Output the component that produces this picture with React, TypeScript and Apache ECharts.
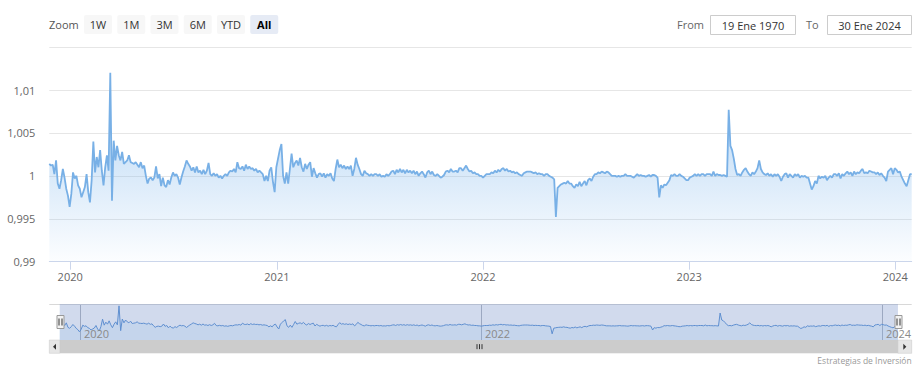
import React, { useEffect, useRef } from "react";
import * as echarts from "echarts";

const DAY_MS = 86400000;
const SERIES_START = Date.UTC(2019, 10, 25); // first sample: 25 Nov 2019
const SAMPLE_STEP_DAYS = 3;

// Values, one every 3 days.
// part 1: from 2019-11-25
const valuesPart1 = [
  1.0014, 1.0012, 1.0013, 1.0002, 1.0018, 0.9991, 0.9985, 0.9995, 1.0008, 0.9998,
  0.9985, 0.9977, 0.9964, 0.9979, 1.0004, 0.9997, 1.0, 0.9989, 0.9985, 0.9975,
  0.9981, 0.9987, 1.0002, 0.9981, 0.9969, 0.9995, 1.004, 1.0004, 1.0022, 1.001,
  1.003, 1.0006, 0.9989, 1.001, 1.0024, 1.0006, 1.012, 0.9971, 1.0041, 1.0018,
  1.0035, 1.0024, 1.0018, 1.0028, 1.0014, 1.0016, 1.0018, 1.0024, 1.0016, 1.0015,
  1.0014, 1.0016, 1.0013, 1.001, 1.0016, 1.0009, 1.0012, 1.0, 0.9991, 0.9997,
  0.9998, 0.9995, 0.9998, 1.0011, 0.9997, 1.0002, 0.9988, 0.9998, 0.9989, 0.9987,
  0.9995, 0.999, 0.9998, 1.0004, 1.0, 1.0002, 0.9998, 0.999, 0.9998, 1.0005,
  1.0011, 1.0018, 1.0014, 1.0011, 1.0006, 1.001, 1.0004, 1.0011, 1.0004, 1.0006,
  1.0002, 1.0007, 1.0002, 1.0006, 1.0015, 1.0002, 1.0, 1.0003, 1.0, 1.0002,
  0.9998, 1.0, 0.9997, 1.0, 1.0002, 1.0, 1.0004, 1.0006, 1.0005, 1.0008,
  1.0004, 1.0016, 1.0009, 1.0008, 1.0011, 1.0006, 1.0013, 1.0008, 1.0011, 1.0008,
  1.0009, 1.0006, 1.0008, 1.0004, 1.0006, 1.0004, 1.0002, 0.9994, 1.0, 0.9994,
  1.0006, 1.001,
];
// part 2: from 2020-12-25
const valuesPart2 = [
  0.9993, 0.9981, 1.001, 1.002, 1.003, 1.0037, 1.0, 0.9991, 1.0004, 0.9991,
  1.0008, 1.0026, 1.001, 1.0015, 1.0018, 1.0012, 1.0021, 1.001, 1.0005, 1.0014,
  1.0008, 1.0013, 1.0016, 0.9999, 1.0009, 1.0003, 0.9998, 1.0002, 1.0003, 0.9999,
  1.0003, 0.9998, 1.0002, 1.0, 1.0003, 0.9997, 0.9994, 1.0008, 1.0019, 1.001,
  1.0013, 1.0009, 1.0012, 1.0008, 1.0011, 1.0008, 1.0012, 1.0, 1.0008, 1.0021,
  1.0013, 1.0008, 1.0002, 1.0, 1.0006, 1.0003, 1.0002, 1.0, 1.0002, 1.0,
  1.0002, 1.0002, 1.0, 1.0002, 0.9999, 1.0, 0.9999, 1.0002, 1.0, 1.0002,
  1.0005, 1.0006, 1.0002, 1.0007, 1.0004, 1.0008, 1.0004, 1.0007, 1.0003, 1.0007,
  1.0004, 1.0006, 1.0003, 1.0006, 1.0002, 1.0005, 1.0, 1.0003, 1.0005, 1.0002,
  0.9998, 1.0004, 1.0006, 1.0002, 1.0005, 1.0001, 1.0, 1.0002, 1.0, 0.9998,
  0.9999, 1.0001, 1.0005, 1.0006, 1.0004, 1.0008, 1.0005, 1.0005, 1.0006, 1.0004,
  1.0009, 1.0009, 1.0006, 1.0009, 1.0012, 1.0008, 1.0005, 1.0006, 1.0003, 1.0004,
  1.0002, 1.0002, 1.0, 1.0, 0.9998, 1.0, 1.0002,
];
// part 3: from 2022-01-10
const valuesPart3 = [
  1.0002, 1.0002, 1.0004, 1.0003, 1.0006, 1.0004, 1.0007, 1.0005, 1.0008, 1.0009,
  1.0006, 1.0008, 1.0005, 1.0006, 1.0004, 1.0005, 1.0003, 1.0004, 1.0002, 1.0001,
  1.0, 1.0003, 1.0004, 1.0005, 1.0005, 1.0005, 1.0004, 1.0003, 1.0004, 1.0002,
  1.0003, 1.0002, 1.0002, 1.0, 1.0002, 1.0002, 1.0, 0.9999, 0.9998, 0.9996,
  0.9952, 0.9986, 0.9988, 0.999, 0.9991, 0.9992, 0.9991, 0.9994, 0.9991, 0.9991,
  0.9988, 0.9986, 0.999, 0.9988, 0.9993, 0.9988, 0.9991, 0.9994, 0.9989, 0.9995,
  0.9997, 0.9994, 0.9999, 1.0002, 1.0002, 1.0004, 1.0003, 1.0005, 1.0004, 1.0003,
  1.0005, 1.0004, 1.0002, 1.0, 1.0, 1.0, 0.9999, 1.0, 0.9999, 1.0,
  1.0, 1.0002, 1.0, 1.0, 1.0, 0.9999, 0.9998, 1.0, 1.0002, 1.0,
  1.0001, 1.0, 1.0, 0.9999, 1.0, 1.0001, 0.9999, 1.0001, 1.0001, 1.0,
  0.9998, 0.9975, 0.9989, 0.9986, 0.999, 0.9989, 0.9992, 0.9995, 1.0001, 1.0,
  1.0002, 1.0, 1.0, 1.0002, 1.0, 0.9999, 0.9997, 0.9995, 0.9995, 0.9998,
  0.9999, 1.0, 1.0002, 1.0, 1.0002, 1.0, 1.0002, 1.0002, 1.0, 1.0002,
  1.0002,
];
// part 4: from 2023-02-07
const valuesPart4 = [
  1.0002, 1.0, 1.0005, 1.0, 1.0002, 1.0001, 1.0001, 1.0, 1.0001, 1.0,
  0.9999, 1.0077, 1.0035, 1.003, 1.002, 1.0008, 1.0001, 1.0002, 1.0, 1.0004,
  1.0007, 1.0009, 1.0005, 1.0002, 1.0, 1.0004, 1.0002, 1.0005, 1.0009, 1.0018,
  1.0008, 1.0004, 1.0002, 1.0001, 1.0003, 1.0, 1.0002, 0.9999, 1.0002, 1.0,
  1.0002, 0.9999, 0.9994, 0.9999, 1.0002, 1.0003, 0.9998, 1.0002, 1.0, 0.9998,
  1.0002, 1.0, 1.0002, 0.9998, 1.0, 0.9999, 1.0, 0.9998, 0.9998, 0.9991,
  0.9984, 0.9988, 0.9994, 0.9991, 1.0, 0.9997, 0.9999, 0.9998, 1.0, 0.9995,
  0.9998, 1.0, 0.9998, 1.0002, 1.0002, 1.0, 1.0003, 0.9997, 1.0002, 1.0,
  1.0003, 1.0005, 1.0002, 1.0004, 1.0, 1.0005, 1.0002, 1.0004, 1.0003, 1.0006,
  1.0008, 1.0003, 1.0004, 1.0003, 1.0006, 1.0005, 1.0004, 1.0004, 1.0002, 1.0004,
  1.0001, 1.0003, 1.0, 0.9998, 0.9994, 1.0005, 1.0007, 1.0009, 1.0002, 1.0009,
  1.0007, 1.0004, 1.0005, 0.9999, 0.9995, 0.9991, 0.9988, 0.9995, 1.0002, 1.0002,
];

const Y_MIN = 0.99;
const Y_MAX = 1.015;
const Y_STEP = 0.005;
const NAV_X_MIN = Date.UTC(2019, 10, 6);
const NAV_X_MAX = Date.UTC(2024, 1, 24);
const NAV_Y_MIN = 0.9915;
const NAV_Y_MAX = 1.0131;
const NAV_TICK_YEARS = [2020, 2022, 2024];

const RANGE_BUTTONS = ["1W", "1M", "3M", "6M", "YTD", "All"];
const SELECTED_BUTTON = "All";
const ZOOM_LABEL = "Zoom";
const FROM_LABEL = "From";
const TO_LABEL = "To";
const FROM_TEXT = "19 Ene 1970";
const TO_TEXT = "30 Ene 2024";
const CREDITS = "Estrategias de Inversión";

const FONT = '"Open Sans", "Noto Sans", Arial, sans-serif';

const PLOT_LEFT = 49.3;
const PLOT_WIDTH = 862.4;
const PLOT_RIGHT = PLOT_LEFT + PLOT_WIDTH;
const NAV_TOP = 304;
const NAV_HEIGHT = 36;
const SCROLL_TOP = 340;
const SCROLL_H = 13.3;

function txt(x: number, y: number, text: string, o: any = {}) {
  return {
    type: "text",
    x,
    y,
    silent: true,
    z: o.z || 0,
    style: {
      text,
      fill: o.fill || "#666666",
      fontSize: o.size || 11,
      fontFamily: FONT,
      fontWeight: o.weight || "normal",
      align: o.align || "left",
      textAlign: o.align || "left",
      verticalAlign: "middle",
      textVerticalAlign: "middle",
    },
  };
}

function buildGraphics(xs: number, xe: number, yearXs: number[]) {
  const els: any[] = [];
  // Zoom label and range buttons
  els.push(txt(49, 24.5, ZOOM_LABEL, { fill: "#555555" }));
  RANGE_BUTTONS.forEach((b, k) => {
    const bx = 84 + k * 33.25;
    const sel = b === SELECTED_BUTTON;
    els.push({
      type: "rect",
      silent: true,
      shape: { x: bx, y: 15, width: 28, height: 19, r: 2 },
      style: { fill: sel ? "#e6ebf5" : "#f7f7f7" },
    });
    els.push(
      txt(bx + 14, 24.5, b, {
        fill: sel ? "#000000" : "#333333",
        weight: sel ? "bold" : "normal",
        align: "center",
      })
    );
  });
  // From / To inputs
  els.push(txt(677, 24.5, FROM_LABEL, { fill: "#666666" }));
  els.push({
    type: "rect",
    silent: true,
    shape: { x: 710.5, y: 15.5, width: 85, height: 19 },
    style: { fill: "#ffffff", stroke: "#cccccc", lineWidth: 1 },
  });
  els.push(txt(753, 25, FROM_TEXT, { fill: "#333333", align: "center" }));
  els.push(txt(806, 24.5, TO_LABEL, { fill: "#666666" }));
  els.push({
    type: "rect",
    silent: true,
    shape: { x: 827.5, y: 15.5, width: 84, height: 19 },
    style: { fill: "#ffffff", stroke: "#cccccc", lineWidth: 1 },
  });
  els.push(txt(869.5, 25, TO_TEXT, { fill: "#333333", align: "center" }));

  // navigator year grid lines and labels (positions from the navigator axis scale)
  yearXs.forEach((gx, k) => {
    const lx = Math.round(gx) + 0.5;
    els.push({
      type: "line",
      silent: true,
      shape: { x1: lx, y1: NAV_TOP, x2: lx, y2: NAV_TOP + NAV_HEIGHT },
      style: { stroke: "#b4b8c0", lineWidth: 1 },
    });
    els.push(txt(lx + 3.5, 333, String(NAV_TICK_YEARS[k]), { fill: "#8a8a8a", z: 5 }));
  });

  // navigator outline
  els.push({
    type: "line",
    silent: true,
    shape: { x1: PLOT_LEFT, y1: NAV_TOP + 0.5, x2: PLOT_RIGHT, y2: NAV_TOP + 0.5 },
    style: { stroke: "#d8d8d8", lineWidth: 1 },
  });

  // handles
  [xs, xe].forEach((hx) => {
    const cx = Math.round(hx) + 0.5;
    els.push({
      type: "rect",
      silent: true,
      z: 10,
      shape: { x: cx - 3.5, y: 315.5, width: 7, height: 13 },
      style: { fill: "#f2f2f2", stroke: "#999999", lineWidth: 1 },
    });
    [-1.5, 1.5].forEach((d) =>
      els.push({
        type: "line",
        silent: true,
        z: 11,
        shape: { x1: cx + d, y1: 318.5, x2: cx + d, y2: 325.5 },
        style: { stroke: "#333333", lineWidth: 1 },
      })
    );
  });

  // scrollbar
  const btnW = xs - PLOT_LEFT;
  els.push({
    type: "rect",
    silent: true,
    shape: { x: PLOT_LEFT, y: SCROLL_TOP, width: PLOT_WIDTH, height: SCROLL_H },
    style: { fill: "#f2f2f2" },
  });
  els.push({
    type: "rect",
    silent: true,
    shape: { x: xs, y: SCROLL_TOP, width: xe - xs, height: SCROLL_H },
    style: { fill: "#cccccc" },
  });
  els.push({
    type: "rect",
    silent: true,
    shape: { x: PLOT_LEFT, y: SCROLL_TOP, width: btnW, height: SCROLL_H },
    style: { fill: "#e6e6e6", stroke: "#cccccc", lineWidth: 0.5 },
  });
  els.push({
    type: "rect",
    silent: true,
    shape: { x: xe, y: SCROLL_TOP, width: PLOT_RIGHT - xe, height: SCROLL_H },
    style: { fill: "#e6e6e6", stroke: "#cccccc", lineWidth: 0.5 },
  });
  const my = SCROLL_TOP + SCROLL_H / 2;
  const lc = PLOT_LEFT + btnW / 2;
  const rc = xe + (PLOT_RIGHT - xe) / 2;
  els.push({
    type: "polygon",
    silent: true,
    shape: { points: [[lc + 1.5, my - 3], [lc + 1.5, my + 3], [lc - 1.5, my]] },
    style: { fill: "#333333" },
  });
  els.push({
    type: "polygon",
    silent: true,
    shape: { points: [[rc - 1.5, my - 3], [rc - 1.5, my + 3], [rc + 1.5, my]] },
    style: { fill: "#333333" },
  });
  const gc = Math.round((xs + xe) / 2) + 0.5;
  [-2.5, 0, 2.5].forEach((d) =>
    els.push({
      type: "line",
      silent: true,
      shape: { x1: gc + d, y1: my - 2.5, x2: gc + d, y2: my + 2.5 },
      style: { stroke: "#333333", lineWidth: 1 },
    })
  );

  // credits
  els.push(txt(PLOT_RIGHT, 360, CREDITS, { fill: "#999999", size: 8.5, align: "right" }));
  return els;
}

function yLabel(v: number) {
  if (Math.abs(v - Y_MAX) < 1e-9) return "";
  return String(+v.toFixed(3)).replace(".", ",");
}

export default function App() {
  const ref = useRef<HTMLDivElement>(null);
  useEffect(() => {
    const el = ref.current as HTMLDivElement;
    const chart = echarts.init(el, null, { renderer: "svg" });
    const values = [...valuesPart1, ...valuesPart2, ...valuesPart3, ...valuesPart4];
    const data = values.map((v, i) => [SERIES_START + i * SAMPLE_STEP_DAYS * DAY_MS, v]);
    const start = data[0][0] as number;
    const end = data[data.length - 1][0] as number;

    const option: any = {
      animation: false,
      useUTC: true,
      textStyle: { fontFamily: FONT },
      grid: [
        { left: PLOT_LEFT, top: 47.1, width: PLOT_WIDTH, height: 214.6 },
        { left: PLOT_LEFT, top: NAV_TOP, width: PLOT_WIDTH, height: NAV_HEIGHT },
      ],
      xAxis: [
        {
          type: "time",
          gridIndex: 0,
          min: start,
          max: end,
          minInterval: 400 * DAY_MS,
          axisLine: { lineStyle: { color: "#ccd6eb", width: 1 } },
          axisTick: { show: true, length: 8, lineStyle: { color: "#ccd6eb" } },
          axisLabel: {
            color: "#666666",
            fontSize: 11,
            fontFamily: FONT,
            margin: 9,
            formatter: "{yyyy}",
          },
          splitLine: { show: false },
        },
        {
          type: "time",
          gridIndex: 1,
          min: NAV_X_MIN,
          max: NAV_X_MAX,
          axisLine: { show: false },
          axisTick: { show: false },
          axisLabel: { show: false },
          splitLine: { show: false },
        },
      ],
      yAxis: [
        {
          type: "value",
          gridIndex: 0,
          min: Y_MIN,
          max: Y_MAX,
          interval: Y_STEP,
          axisLine: { show: false },
          axisTick: { show: false },
          splitLine: { lineStyle: { color: "#e6e6e6", width: 1 } },
          axisLabel: {
            color: "#666666",
            fontSize: 11,
            fontFamily: FONT,
            margin: 14,
            showMaxLabel: false,
            formatter: yLabel,
          },
        },
        {
          type: "value",
          gridIndex: 1,
          min: NAV_Y_MIN,
          max: NAV_Y_MAX,
          show: false,
        },
      ],
      series: [
        {
          type: "line",
          xAxisIndex: 0,
          yAxisIndex: 0,
          data,
          symbol: "none",
          showSymbol: false,
          lineStyle: { color: "#78b0e6", width: 1.8 },
          itemStyle: { color: "#78b0e6" },
          areaStyle: {
            origin: "start",
            color: new echarts.graphic.LinearGradient(0, 0, 0, 1, [
              { offset: 0, color: "rgba(124,181,236,0.85)" },
              { offset: 1, color: "rgba(124,181,236,0.03)" },
            ]),
          },
        },
        {
          type: "line",
          xAxisIndex: 1,
          yAxisIndex: 1,
          data,
          symbol: "none",
          showSymbol: false,
          lineStyle: { color: "#5f8fd0", width: 1 },
          itemStyle: { color: "#5f8fd0" },
          areaStyle: { origin: "start", color: "rgba(124,181,236,0.2)" },
          markArea: {
            silent: true,
            itemStyle: { color: "rgba(102,133,194,0.3)" },
            data: [[{ xAxis: start }, { xAxis: end }]],
          },
        },
      ],
    };
    chart.setOption(option);
    const xs = chart.convertToPixel({ xAxisIndex: 1 }, start) as unknown as number;
    const xe = chart.convertToPixel({ xAxisIndex: 1 }, end) as unknown as number;
    const yearXs = NAV_TICK_YEARS.map(
      (y) => chart.convertToPixel({ xAxisIndex: 1 }, Date.UTC(y, 0, 1)) as unknown as number
    );
    chart.setOption({ graphic: { elements: buildGraphics(xs, xe, yearXs) } });
    return () => chart.dispose();
  }, []);
  return (
    <div
      ref={ref}
      style={{ position: "absolute", left: 0, top: 0, width: 921, height: 370 }}
    />
  );
}
